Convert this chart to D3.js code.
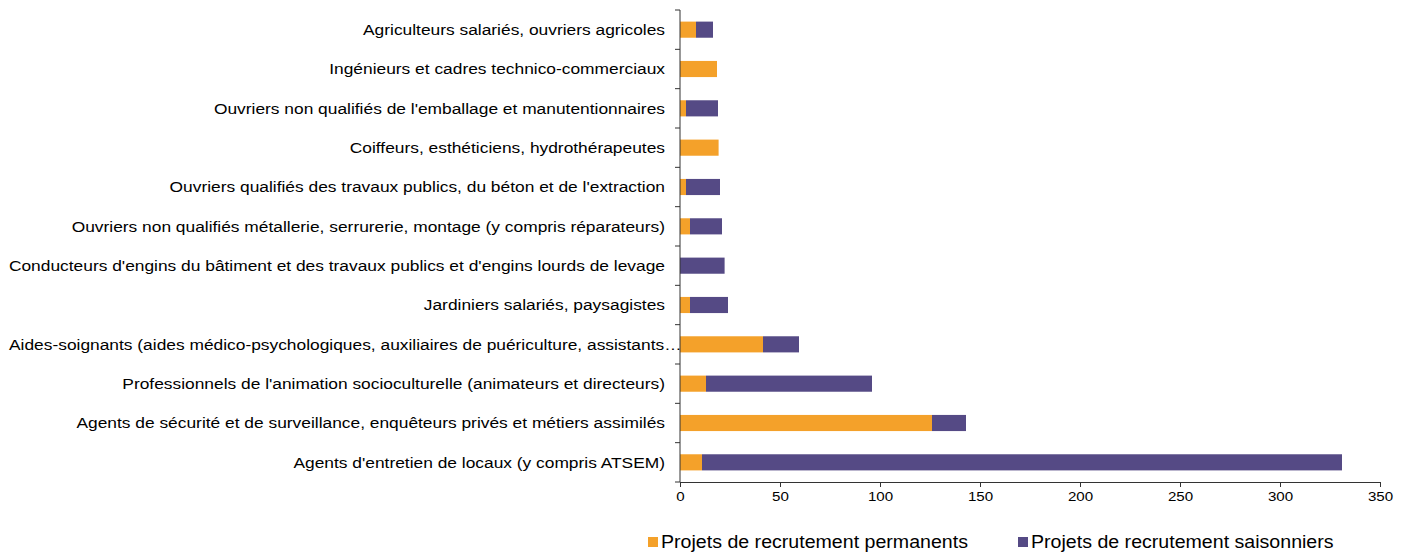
<!DOCTYPE html>
<html>
<head>
<meta charset="utf-8">
<script src="https://cdn.jsdelivr.net/npm/d3@7"></script>
<style>
  body { margin: 0; background: #fff; }
  svg { display: block; font-family: "Liberation Sans", Arial, sans-serif; }
</style>
</head>
<body>
<div id="chart"></div>
<script>
// categories from top to bottom
const metiers = [
    "Agriculteurs salariés, ouvriers agricoles",
    "Ingénieurs et cadres technico-commerciaux",
    "Ouvriers non qualifiés de l'emballage et manutentionnaires",
    "Coiffeurs, esthéticiens, hydrothérapeutes",
    "Ouvriers qualifiés des travaux publics, du béton et de l'extraction",
    "Ouvriers non qualifiés métallerie, serrurerie, montage (y compris réparateurs)",
    "Conducteurs d'engins du bâtiment et des travaux publics et d'engins lourds de levage",
    "Jardiniers salariés, paysagistes",
    "Aides-soignants (aides médico-psychologiques, auxiliaires de puériculture, assistants…",
    "Professionnels de l'animation socioculturelle (animateurs et directeurs)",
    "Agents de sécurité et de surveillance, enquêteurs privés et métiers assimilés",
    "Agents d'entretien de locaux (y compris ATSEM)"
];
const permanents  = [8, 18.5, 3, 19.3, 3, 5, 0, 5, 41.5, 13, 126, 11];
const saisonniers = [8.5, 0, 16, 0, 17, 16, 22.3, 19, 18, 83, 17, 320];
const seriesNames = ["Projets de recrutement permanents", "Projets de recrutement saisonniers"];
const xTicks = [0, 50, 100, 150, 200, 250, 300, 350];

function drawChart(containerId) {
    const width = 1410;
    const height = 553;
    const margin = { top: 10, left: 680, right: 30, bottom: 71 };
    const colors = ["#F4A12A", "#554A85"];
    const stretch = 1.12; // text in the original is a bit wide

    const svg = d3.select(`#${containerId}`)
        .append("svg")
        .attr("width", width)
        .attr("height", height);

    const x = d3.scaleLinear()
        .domain([0, 350])
        .range([margin.left, margin.left + 700]);

    const y = d3.scaleBand()
        .domain(metiers)
        .range([margin.top, height - margin.bottom])
        .paddingInner(0.59)
        .paddingOuter(0.295);

    const rows = metiers.map((m, i) => ({ metier: m, permanents: permanents[i], saisonniers: saisonniers[i] }));
    const stacked = d3.stack().keys(["permanents", "saisonniers"])(rows);

    svg.append("g")
        .selectAll("g")
        .data(stacked)
        .join("g")
        .attr("fill", (d, i) => colors[i])
        .selectAll("rect")
        .data(d => d.filter(v => v[1] > v[0]))
        .join("rect")
        .attr("x", d => x(d[0]))
        .attr("y", d => y(d.data.metier))
        .attr("width", d => x(d[1]) - x(d[0]))
        .attr("height", y.bandwidth());

    // y axis: line with ticks between categories
    const step = y.step();
    const yAxis = svg.append("g");
    yAxis.append("line")
        .attr("x1", margin.left).attr("x2", margin.left)
        .attr("y1", margin.top).attr("y2", height - margin.bottom)
        .attr("stroke", "#333");
    yAxis.selectAll("line.tick")
        .data(d3.range(metiers.length + 1))
        .join("line")
        .attr("class", "tick")
        .attr("x1", margin.left - 5).attr("x2", margin.left)
        .attr("y1", i => margin.top + i * step)
        .attr("y2", i => margin.top + i * step)
        .attr("stroke", "#333");
    yAxis.selectAll("text")
        .data(metiers)
        .join("text")
        .attr("transform", d => {
            const tx = d.endsWith("…") ? 9 : margin.left - 15;
            return `translate(${tx},${y(d) + y.bandwidth() / 2}) scale(1.135,1)`;
        })
        .attr("text-anchor", d => d.endsWith("…") ? "start" : "end")
        .attr("dy", "0.35em")
        .attr("font-size", "15.3px")
        .attr("fill", "#000")
        .text(d => d);

    // x axis
    const xAxis = svg.append("g")
        .attr("transform", `translate(0,${height - margin.bottom})`)
        .call(d3.axisBottom(x).tickValues(xTicks).tickSize(5).tickSizeOuter(0));
    xAxis.select(".domain").attr("stroke", "#333");
    xAxis.selectAll(".tick line").attr("stroke", "#333");
    xAxis.selectAll(".tick text")
        .attr("font-size", "13.5px")
        .attr("font-family", "Liberation Sans, Arial, sans-serif")
        .attr("fill", "#000")
        .attr("y", 9)
        .attr("dy", "0.75em")
        .attr("transform", `scale(${stretch},1)`);

    // legend
    const legend = svg.append("g");
    const legendX = [648, 1018];
    seriesNames.forEach((name, i) => {
        const g = legend.append("g").attr("transform", `translate(${legendX[i]},537)`);
        g.append("rect").attr("width", 10).attr("height", 10).attr("fill", colors[i]);
        g.append("text")
            .attr("transform", `translate(13,5) scale(${stretch},1)`)
            .attr("dy", "0.35em")
            .attr("font-size", "17.5px")
            .attr("fill", "#000")
            .text(name);
    });
}

drawChart("chart");
</script>
</body>
</html>
